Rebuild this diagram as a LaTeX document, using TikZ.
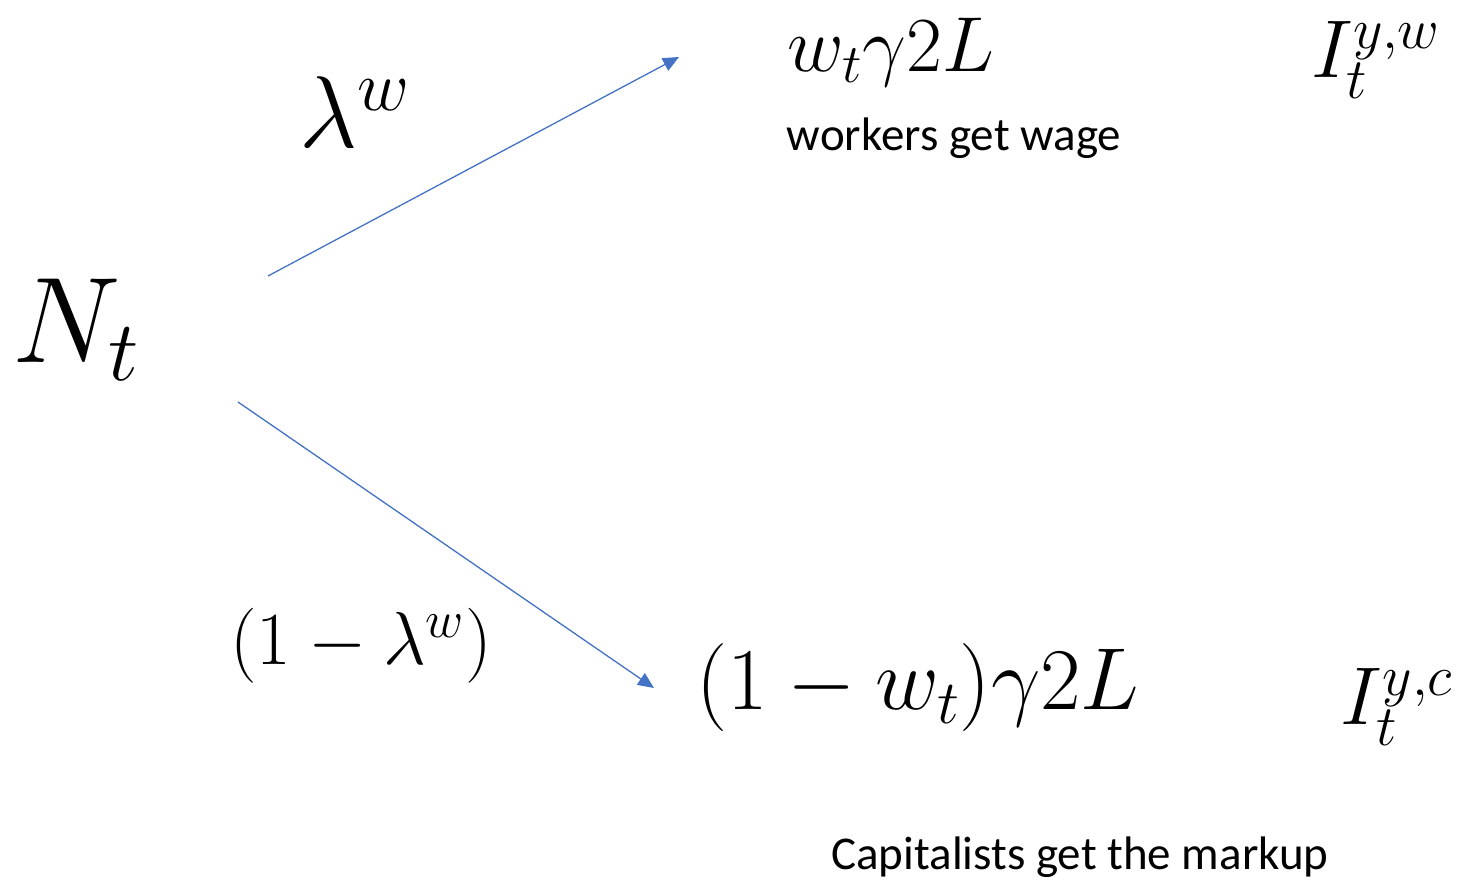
\RequirePackage{fix-cm}
\documentclass[tikz,border=0pt]{standalone}
\usepackage{fontspec}
\newfontfamily\labelfont{Carlito}
\usetikzlibrary{arrows.meta}
\definecolor{arrowblue}{RGB}{68,114,196}

\begin{document}
\begin{tikzpicture}[x=0.5pt, y=-0.5pt, every node/.style={inner sep=0pt}, branch/.style={draw=arrowblue, line width=0.65pt, -{Triangle[length=8pt, width=7pt]}}, caption/.style={font=\labelfont\fontsize{23.5}{28}\selectfont}]
    \useasboundingbox (0,0) rectangle (1462,881);
    \node (nt) at (76,330) {\fontsize{61}{66}\selectfont $N_t$};
    \node (lamw) at (355,112) {\fontsize{51}{56}\selectfont $\lambda^w$};
    \node (lamc) at (361,646) {\fontsize{37.5}{42}\selectfont $(1-\lambda^w)$};
    \node (wage) at (891,52) {\fontsize{39}{44}\selectfont $w_t\gamma 2L$};
    \node (wagetxt) at (954,138) [caption] {workers get wage};
    \node (markup) at (918,688) {\fontsize{44}{48}\selectfont $(1-w_t)\gamma 2L$};
    \node (markuptxt) at (1080,857) [caption] {Capitalists get the markup};
    \node (iyw) at (1376,60) {\fontsize{41}{46}\selectfont $I_t^{y,w}$};
    \node (iyc) at (1397,707) {\fontsize{41}{46}\selectfont $I_t^{y,c}$};
    \coordinate (upstart) at (268,276);
    \coordinate (upend) at (679,57);
    \coordinate (downstart) at (238,402);
    \coordinate (downend) at (654,688);
    \draw[branch] (upstart) -- (upend);
    \draw[branch] (downstart) -- (downend);
\end{tikzpicture}
\end{document}
